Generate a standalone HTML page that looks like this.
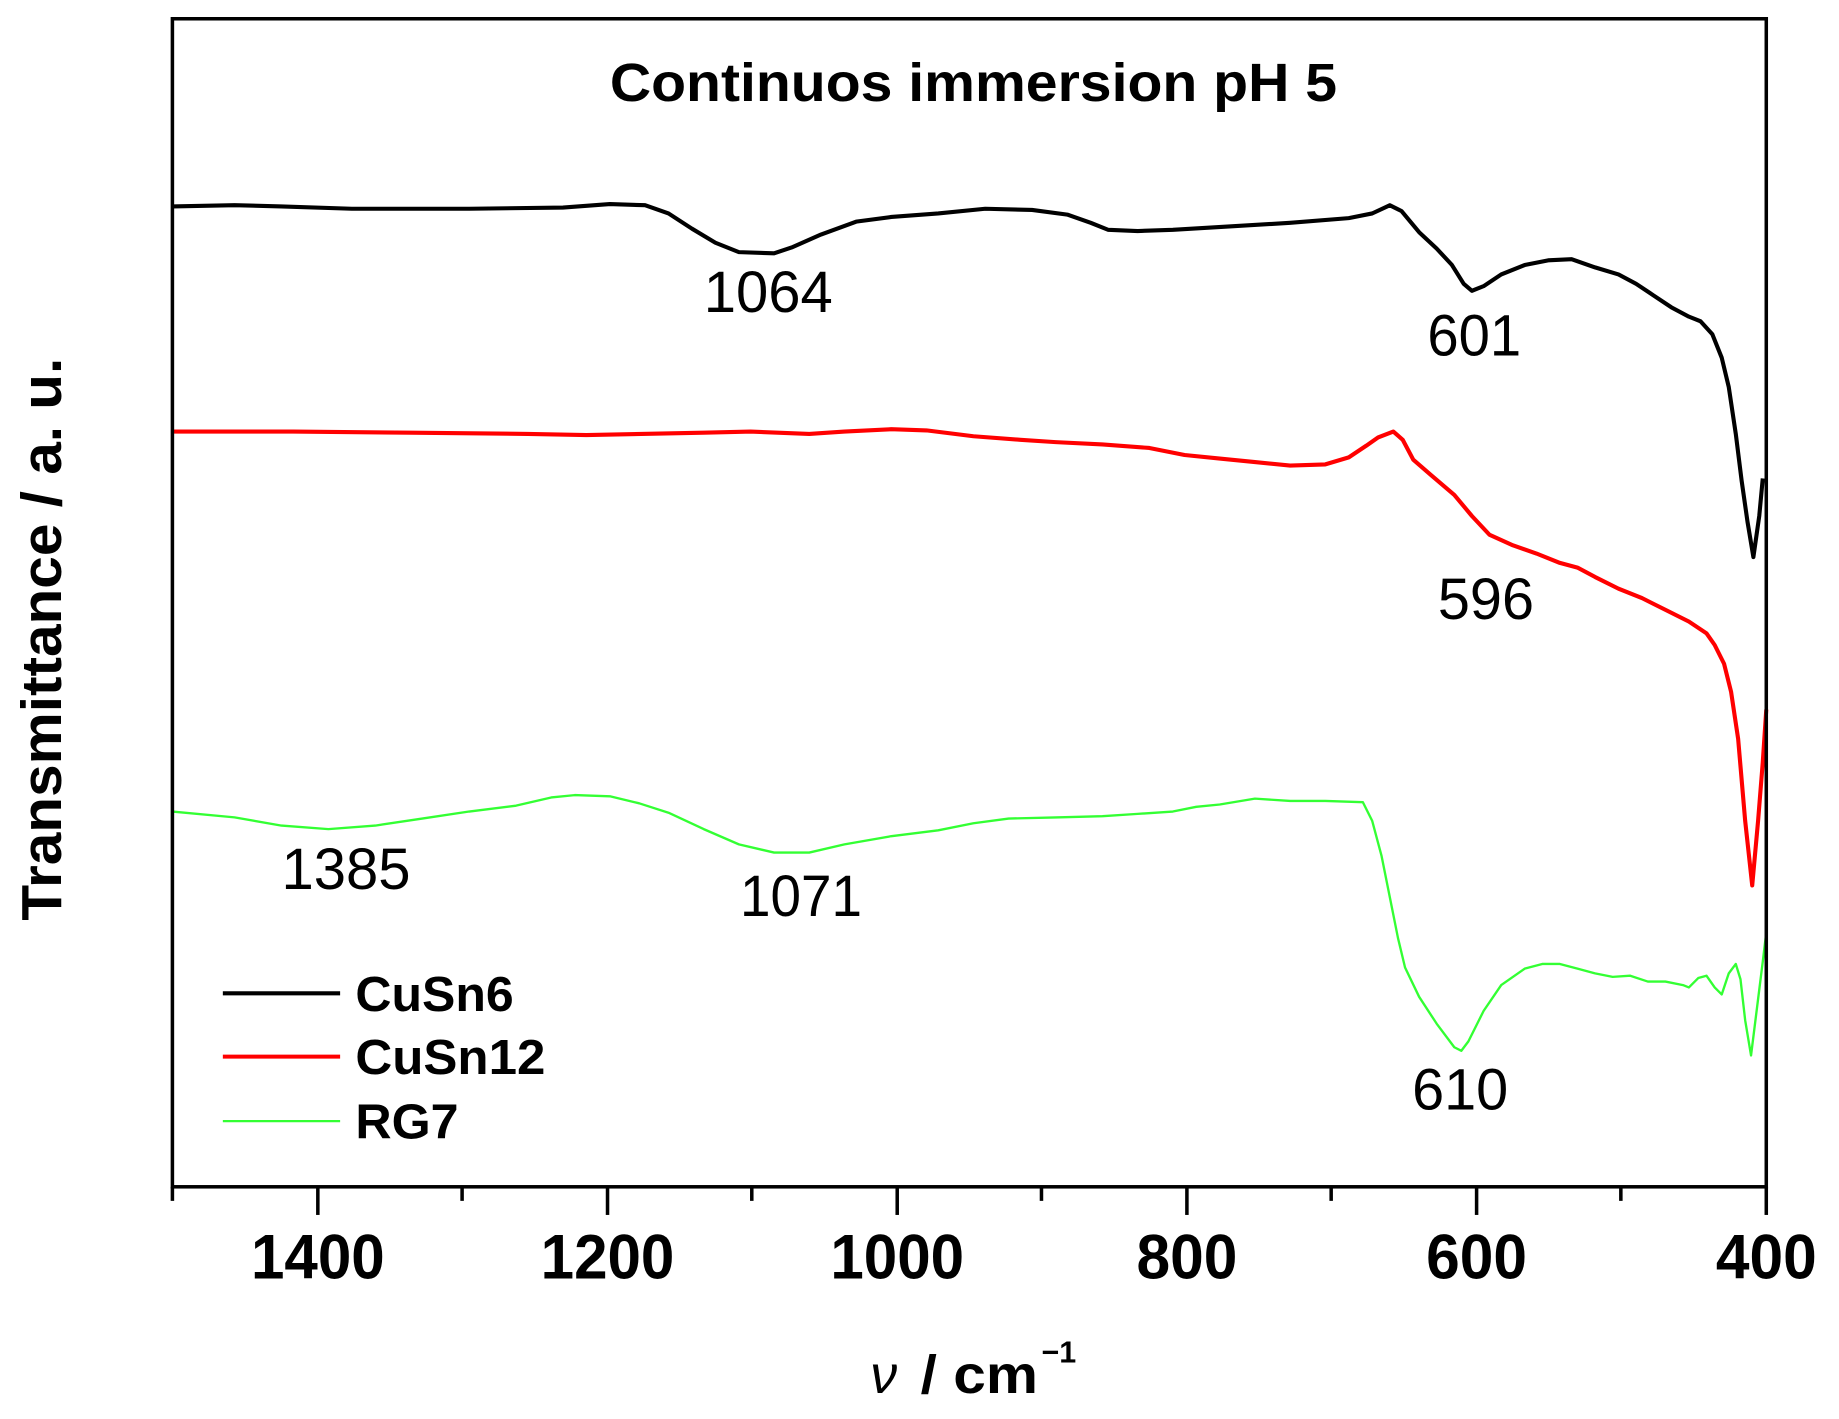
<!DOCTYPE html>
<html><head><meta charset="utf-8"><style>
html,body{margin:0;padding:0;background:#fff;}
svg{display:block;}
text{font-family:"Liberation Sans",Arial,sans-serif;}
</style></head><body>
<svg width="1839" height="1419" viewBox="0 0 1568 1210" preserveAspectRatio="none" xmlns="http://www.w3.org/2000/svg">
<rect x="0" y="0" width="1568" height="1210" fill="#fff"/>
<polyline fill="none" stroke="#000" stroke-width="3.5" stroke-linejoin="round" points="147,176 200,175 240,176 300,178 400,178 480,177 520,174 550,175 570,182 590,195 610,207 630,215 660,216 675,211 700,200 730,189 760,185 800,182 840,178 880,179 910,183 930,190 945,196 970,197 1000,196 1050,193 1100,190 1150,186 1170,182 1185,175 1195,180 1210,198 1225,212 1238,226 1248,242 1255,248 1265,244 1280,234 1300,226 1320,222 1340,221 1360,228 1380,234 1395,242 1410,252 1425,262 1440,270 1450,274 1460,285 1468,305 1474,330 1480,370 1485,410 1490,445 1495,475 1500,440 1503,408"/>
<polyline fill="none" stroke="#f00" stroke-width="3.5" stroke-linejoin="round" points="147,368 250,368 350,369 450,370 500,371 600,369 640,368 690,370 720,368 760,366 790,367 830,372 870,375 900,377 940,379 980,382 1010,388 1040,391 1070,394 1100,397 1130,396 1150,390 1165,380 1175,373 1188,368 1196,375 1205,392 1220,405 1240,422 1255,440 1270,456 1290,465 1310,472 1330,480 1345,484 1360,492 1380,502 1400,510 1420,520 1440,530 1455,540 1462,550 1470,566 1476,590 1482,630 1488,700 1494,755 1499,700 1503,650 1506,605"/>
<polyline fill="none" stroke="#3f3" stroke-width="2" stroke-linejoin="round" points="147,692 200,697 240,704 280,707 320,704 360,698 400,692 440,687 470,680 490,678 520,679 545,685 570,693 600,707 630,720 660,727 690,727 720,720 760,713 800,708 830,702 860,698 900,697 940,696 970,694 1000,692 1020,688 1040,686 1070,681 1100,683 1130,683 1162,684 1170,700 1178,730 1185,765 1192,800 1198,825 1210,850 1225,873 1240,893 1246,896 1252,888 1265,862 1280,840 1300,826 1315,822 1330,822 1345,826 1360,830 1375,833 1390,832 1405,837 1420,837 1435,840 1440,842 1448,834 1455,832 1462,842 1468,848 1474,830 1480,822 1484,835 1488,870 1493,900 1498,860 1503,820 1506,795"/>
<rect x="147" y="16" width="1359" height="996" fill="none" stroke="#000" stroke-width="3"/>
<g stroke="#000" stroke-width="3">
<line x1="147" y1="1012" x2="147" y2="1024"/>
<line x1="271" y1="1012" x2="271" y2="1036"/>
<line x1="394" y1="1012" x2="394" y2="1024"/>
<line x1="518" y1="1012" x2="518" y2="1036"/>
<line x1="641" y1="1012" x2="641" y2="1024"/>
<line x1="765" y1="1012" x2="765" y2="1036"/>
<line x1="888" y1="1012" x2="888" y2="1024"/>
<line x1="1012" y1="1012" x2="1012" y2="1036"/>
<line x1="1135" y1="1012" x2="1135" y2="1024"/>
<line x1="1259" y1="1012" x2="1259" y2="1036"/>
<line x1="1382" y1="1012" x2="1382" y2="1024"/>
<line x1="1506" y1="1012" x2="1506" y2="1036"/>
</g>
<g font-weight="bold" font-size="54" text-anchor="middle">
<text x="271" y="1090" textLength="114" lengthAdjust="spacingAndGlyphs">1400</text>
<text x="518" y="1090" textLength="114" lengthAdjust="spacingAndGlyphs">1200</text>
<text x="765" y="1090" textLength="114" lengthAdjust="spacingAndGlyphs">1000</text>
<text x="1012" y="1090" textLength="86" lengthAdjust="spacingAndGlyphs">800</text>
<text x="1259" y="1090" textLength="86" lengthAdjust="spacingAndGlyphs">600</text>
<text x="1506" y="1090" textLength="86" lengthAdjust="spacingAndGlyphs">400</text>
</g>
<text x="830" y="86" font-weight="bold" font-size="46" text-anchor="middle" textLength="620" lengthAdjust="spacingAndGlyphs">Continuos immersion pH 5</text>
<text transform="translate(52,545) rotate(-90)" font-weight="bold" font-size="48" text-anchor="middle" textLength="480" lengthAdjust="spacingAndGlyphs">Transmittance / a. u.</text>
<text x="742" y="1188" font-size="46" font-style="italic" font-family="Liberation Serif,serif">ν</text>
<text x="785" y="1188" font-size="46" font-weight="bold" textLength="100" lengthAdjust="spacingAndGlyphs">/ cm</text>
<text x="888" y="1162" font-size="26" font-weight="bold">−1</text>
<g font-size="50" text-anchor="middle">
<text x="655" y="266" textLength="110" lengthAdjust="spacingAndGlyphs">1064</text>
<text x="1257" y="303" textLength="80" lengthAdjust="spacingAndGlyphs">601</text>
<text x="1267" y="528" textLength="82" lengthAdjust="spacingAndGlyphs">596</text>
<text x="295" y="758" textLength="110" lengthAdjust="spacingAndGlyphs">1385</text>
<text x="683" y="781" textLength="104" lengthAdjust="spacingAndGlyphs">1071</text>
<text x="1245" y="946" textLength="82" lengthAdjust="spacingAndGlyphs">610</text>
</g>
<line x1="190" y1="847" x2="290" y2="847" stroke="#000" stroke-width="3.5"/>
<line x1="190" y1="901" x2="290" y2="901" stroke="#f00" stroke-width="3.5"/>
<line x1="190" y1="956" x2="290" y2="956" stroke="#3f3" stroke-width="2"/>
<g font-weight="bold" font-size="42">
<text x="303" y="862" textLength="135" lengthAdjust="spacingAndGlyphs">CuSn6</text>
<text x="303" y="916" textLength="162" lengthAdjust="spacingAndGlyphs">CuSn12</text>
<text x="303" y="971" textLength="88" lengthAdjust="spacingAndGlyphs">RG7</text>
</g>
</svg>
</body></html>
